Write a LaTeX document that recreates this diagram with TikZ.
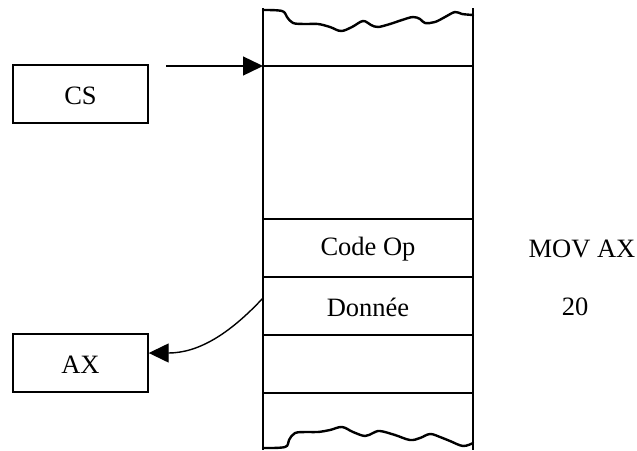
\documentclass[tikz,border=0pt]{standalone}
\usepackage{fontspec}
\setmainfont{Liberation Serif}
\usetikzlibrary{arrows.meta}
\begin{document}
\begin{tikzpicture}[x=1pt,y=-1pt,
  line/.style={line width=1.4pt},
  wave/.style={line width=2.4pt, line join=round, line cap=round},
  regbox/.style={draw, line width=1.4pt, minimum width=135pt, minimum height=58pt, inner sep=0pt},
  lbl/.style={inner sep=0pt, font=\fontsize{26.5}{30}\selectfont},
  arr/.style={line width=1.4pt, -{Triangle[length=20pt,width=19pt]}}]
\useasboundingbox (0,0) rectangle (637,450);
% memory column
\draw[line] (263,8) -- (263,450);
\draw[line] (473,8) -- (473,450);
\foreach \yy in {66,219,277,335,393} \draw[line] (263,\yy) -- (473,\yy);
\draw[wave] plot[smooth, tension=0.6] coordinates {(263,10) (282,11) (287,17) (293,23) (305,24) (318,24) (330,27) (341,31) (352,27) (363,21) (371,25) (378,27) (390,24) (402,20) (413,17) (420,19) (425,23) (435,22) (445,17) (455,12) (462,14) (473,15)};
\draw[wave] plot[smooth, tension=0.6] coordinates {(263,448) (285,447) (289,440) (295,433) (308,432) (318,432) (330,430) (342,427) (353,432) (365,436) (373,433) (380,431) (395,435) (410,440) (420,438) (430,434) (440,437) (450,441) (463,446) (473,443)};
% cell texts
\node[lbl] (codeop) at (368,249) {Code Op};
\node[lbl] (donnee) at (368,307) {Donnée};
\node[lbl] (mov) at (582,249) {MOV AX};
\node[lbl] (val) at (575,307) {20};
% registers
\node[regbox] (cs) at (80.5,94) {};
\node[lbl] (cstext) at (80.5,96) {CS};
\node[regbox] (ax) at (80.5,363) {};
\node[lbl] (axtext) at (80.5,365) {AX};
% connectors
\coordinate (csstart) at (166,66);
\coordinate (cstop) at (263,66);
\coordinate (dstart) at (263,298);
\draw[arr] (csstart) -- (cstop);
\draw[arr] (dstart) to[out=-133,in=0] (ax.east |- 0,353);
\end{tikzpicture}
\end{document}
